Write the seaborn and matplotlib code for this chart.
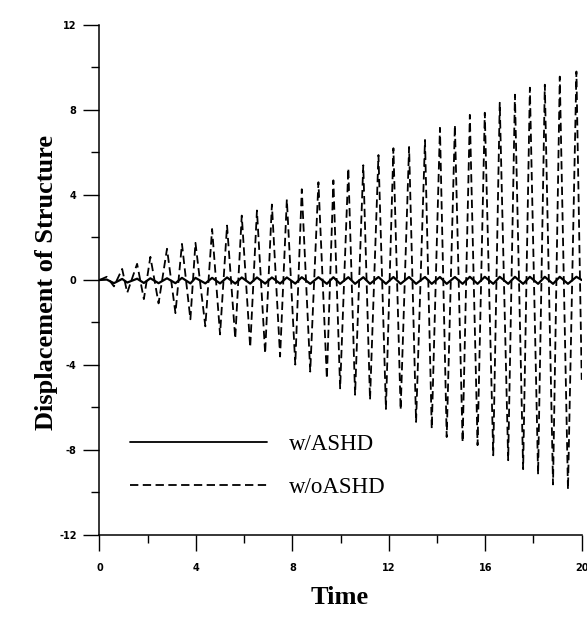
import numpy as np
import pandas as pd
import matplotlib
matplotlib.use("Agg")
import matplotlib.pyplot as plt
import seaborn as sns
from matplotlib.ticker import MultipleLocator

# peaks of the response
t_up = [0.94, 1.56, 2.11, 2.80, 3.42, 3.98, 4.67, 5.29, 5.90, 6.53,
        7.15, 7.77, 8.39, 9.08, 9.70, 10.32, 10.94, 11.57, 12.19, 12.84,
        13.50, 14.12, 14.74, 15.36, 15.98, 16.60, 17.23, 17.85, 18.47, 19.09,
        19.78]
woashd_up = [0.52, 0.76, 1.09, 1.47, 1.70, 1.75, 2.40, 2.56, 3.03, 3.27,
             3.55, 3.79, 4.27, 4.60, 4.69, 5.26, 5.40, 5.88, 6.20, 6.26,
             6.59, 7.16, 7.30, 7.77, 7.87, 8.34, 8.72, 9.05, 9.19, 9.57,
             9.81]
t_lo = [1.15, 1.84, 2.45, 3.15, 3.77, 4.39, 5.00, 5.63, 6.25, 6.87,
        7.49, 8.12, 8.74, 9.43, 9.98, 10.60, 11.22, 11.88, 12.49, 13.13,
        13.78, 14.40, 15.06, 15.68, 16.33, 16.95, 17.57, 18.19, 18.81, 19.43]
woashd_lo = [-0.60, -0.90, -1.10, -1.56, -1.85, -2.18, -2.56, -2.75, -3.17, -3.46,
             -3.60, -3.98, -4.31, -4.64, -5.10, -5.40, -5.64, -6.07, -6.11, -6.68,
             -7.00, -7.39, -7.63, -7.77, -8.25, -8.48, -8.90, -9.15, -9.62, -9.86]
# start / early wiggle / end of record
t_ends = [0.0, 0.30, 0.60, 20.0]
woashd_ends = [0.0, 0.15, -0.30, -4.70]

# controlled structure (w/ASHD) stays near zero
ashd_up = [0.05, 0.06, 0.08, 0.08, 0.10, 0.10, 0.10, 0.12, 0.12, 0.12,
           0.12, 0.12, 0.13, 0.13, 0.13, 0.13, 0.13, 0.14, 0.14, 0.14,
           0.14, 0.14, 0.14, 0.15, 0.15, 0.15, 0.15, 0.15, 0.15, 0.15,
           0.15]
ashd_lo = [-0.12, -0.14, -0.15, -0.15, -0.16, -0.16, -0.16, -0.17, -0.17, -0.17,
           -0.17, -0.17, -0.18, -0.18, -0.18, -0.18, -0.18, -0.18, -0.18, -0.18,
           -0.18, -0.18, -0.18, -0.18, -0.18, -0.18, -0.18, -0.18, -0.18, -0.18]
ashd_ends = [0.0, 0.02, -0.15, 0.0]

times = t_ends + t_up + t_lo
df = pd.DataFrame({
    "Time": times * 2,
    "Displacement": woashd_ends + woashd_up + woashd_lo + ashd_ends + ashd_up + ashd_lo,
    "case": ["w/oASHD"] * len(times) + ["w/ASHD"] * len(times),
})
df = df.sort_values(["case", "Time"])

sns.set_style("ticks")
plt.rcParams["lines.scale_dashes"] = False
plt.rcParams["axes.unicode_minus"] = False
plt.rcParams["text.color"] = "black"
plt.rcParams["axes.labelcolor"] = "black"
plt.rcParams["xtick.color"] = "black"
plt.rcParams["ytick.color"] = "black"
plt.rcParams["font.family"] = ["Liberation Serif", "DejaVu Serif"]

fig = plt.figure(figsize=(5.87, 6.17), dpi=100)
ax = fig.add_axes([0.1695, 0.1329, 0.8215, 0.8266])

sns.lineplot(data=df, x="Time", y="Displacement", hue="case", style="case",
             hue_order=["w/ASHD", "w/oASHD"], style_order=["w/ASHD", "w/oASHD"],
             palette={"w/ASHD": "black", "w/oASHD": "black"},
             dashes={"w/ASHD": "", "w/oASHD": (6, 3.2)},
             estimator=None, sort=True, ax=ax)
for ln in ax.lines:
    ln.set_linewidth(1.3)
ax.lines[0].set_linewidth(1.6)

ax.set_xlim(0, 20)
ax.set_ylim(-12, 12)
ax.xaxis.set_major_locator(MultipleLocator(4))
ax.xaxis.set_minor_locator(MultipleLocator(2))
ax.yaxis.set_major_locator(MultipleLocator(4))
ax.yaxis.set_minor_locator(MultipleLocator(2))
sns.despine(ax=ax)
for s in ["left", "bottom"]:
    ax.spines[s].set_color("black")
    ax.spines[s].set_linewidth(1.1)
ax.tick_params(which="major", length=11.5, width=1.0, color="black", direction="out")
ax.tick_params(which="minor", length=5.8, width=1.0, color="black", direction="out")
ax.tick_params(axis="y", which="major", pad=5)
ax.tick_params(axis="x", which="major", pad=9)
for lab in ax.get_xticklabels() + ax.get_yticklabels():
    lab.set_family("DejaVu Sans")
    lab.set_fontsize(7)
    lab.set_fontweight("bold")
    lab.set_color("black")

ax.set_xlabel("Time", fontsize=19, fontweight="bold")
ax.set_ylabel("Displacement of Structure", fontsize=19, fontweight="bold")
ax.xaxis.set_label_coords(0.499, -0.1235)
ax.xaxis.label.set_va("center")
ax.yaxis.set_label_coords(-0.109, 0.496)
ax.yaxis.label.set_va("center")

leg = ax.legend(loc="center left", bbox_to_anchor=(0.063, 0.135), frameon=False,
                fontsize=16.5, handlelength=6.0, handletextpad=0.95,
                labelspacing=0.95, borderpad=0, borderaxespad=0)
for h in leg.get_lines():
    h.set_color("black")

fig.savefig("out.png", dpi=100)
